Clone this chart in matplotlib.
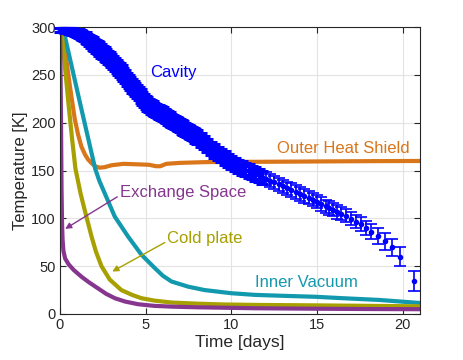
import matplotlib
matplotlib.use('Agg')
import matplotlib.pyplot as plt

plt.rcParams['font.family'] = ['Liberation Sans', 'DejaVu Sans']

# Cavity temperature with error bars (days, K)
cavity_t = [0.0, 0.1, 0.2, 0.3, 0.4, 0.5, 0.6, 0.7, 0.8, 0.9,
            1.0, 1.1, 1.2, 1.3, 1.4, 1.5, 1.6, 1.7, 1.8, 1.9,
            2.0, 2.1, 2.2, 2.3, 2.4, 2.5, 2.6, 2.7, 2.8, 2.9,
            3.0, 3.1, 3.2, 3.3, 3.4, 3.5, 3.6, 3.7, 3.8, 3.9,
            4.0, 4.1, 4.2, 4.3, 4.4, 4.5, 4.6, 4.7, 4.8, 4.9,
            5.0, 5.1, 5.2, 5.3, 5.4, 5.5, 5.6, 5.7, 5.8, 5.9,
            6.0, 6.1, 6.2, 6.3, 6.4, 6.5, 6.6, 6.7, 6.8, 6.9,
            7.0, 7.1, 7.2, 7.3, 7.4, 7.5, 7.6, 7.7, 7.8, 7.9,
            8.0, 8.2, 8.4, 8.6, 8.8, 9.0, 9.2, 9.4, 9.6, 9.8,
            10.0, 10.2, 10.4, 10.6, 10.8, 11.0, 11.2, 11.4, 11.6, 11.8,
            12.0, 12.25, 12.5, 12.75, 13.0, 13.25, 13.5, 13.75, 14.0, 14.25,
            14.5, 14.75, 15.0, 15.25, 15.5, 15.72, 15.93, 16.16, 16.42, 16.67,
            16.96, 17.25, 17.54, 17.87, 18.16, 18.55, 18.94, 19.35, 19.85, 20.63]
cavity_T = [297, 297, 297, 296.8, 296.5, 296.2, 296, 295.5, 295, 294.5,
            294, 293, 292, 291, 290, 289, 287.5, 286, 284.5, 283,
            281.5, 280, 278.5, 277, 275, 273.5, 272, 270, 268.5, 267,
            265, 263, 261, 259, 257, 255, 253, 250.5, 248, 245.5,
            243, 241, 238.5, 236.5, 234.5, 232.5, 230.5, 228, 225.5, 223,
            221, 219.5, 218, 216.5, 215.5, 214, 213, 212, 211, 210,
            209, 207.5, 206.5, 205, 204, 202.5, 201.5, 200, 199, 198,
            197, 195.5, 194.5, 193, 192, 191, 190, 188.5, 187.5, 186,
            185, 182, 179, 176, 173, 170.5, 168, 165.5, 163, 160.5,
            158.5, 156.5, 154.5, 152.5, 151, 149.5, 148, 146.5, 145, 143,
            141.5, 139.5, 137.5, 135.5, 133.5, 131.5, 129.5, 127.5, 125.5, 123.5,
            121.5, 119.5, 117.5, 115, 112.5, 110.8, 109, 106.7, 104.9, 102.8,
            99.7, 96.5, 94.1, 89.9, 86, 81.5, 75.9, 69.6, 60.1, 34.9]
cavity_err = [2, 2, 2, 2.5, 2.5, 3, 3, 3.5, 3.5, 4,
              4, 4.5, 4.5, 5, 5, 5.5, 5.5, 6, 6, 6.5,
              6.5, 7, 7, 7, 7, 7, 7, 7, 7, 7,
              7, 7, 7, 7, 7, 7, 7, 7, 7, 7,
              7, 7, 7, 7, 7, 7, 7, 7, 7, 7,
              7, 7, 7, 7, 7, 7, 7, 7, 7, 7,
              7, 7, 7, 7, 7, 7, 7, 7, 7, 7,
              7, 7, 7, 7, 7, 7, 7, 7, 7, 7,
              7, 7, 7, 7, 7, 7, 7, 7, 7, 7,
              7, 7, 7, 7, 7, 7, 7, 7, 7, 7,
              7, 7, 7, 7, 7, 7, 7, 7, 7, 7,
              7, 7, 7, 7, 7, 7, 7, 7, 7, 7,
              7, 7, 7.5, 7.5, 8, 8, 8.5, 9, 9.5, 10.5]

shield_t = [0, 0.15, 0.3, 0.58, 0.86, 1.05, 1.25, 1.45, 1.64, 1.85, 2.05, 2.3, 2.6, 3.0,
            3.7, 4.5, 5.2, 5.6, 5.85, 6.2, 7.0, 8.5, 10, 12.4, 15, 18, 21]
shield_T = [298, 296, 275, 238, 204, 188, 175, 167, 161.5, 157.5, 154.5, 153, 153.5, 155.5,
            157, 156.5, 156, 154.5, 154.5, 157, 158, 158.8, 159, 159.2, 159.5, 159.8, 160]

vacuum_t = [0, 0.2, 1.15, 2.05, 2.3, 2.6, 3.19, 3.97, 4.75, 5.53, 6.0, 6.5, 7.47,
            8.44, 10, 11.35, 13, 14.9, 16.5, 18.6, 20.7, 21]
vacuum_T = [298, 297, 222, 152, 139, 126.6, 102, 81, 62, 48, 40, 34, 28.6,
            25, 21.7, 20, 19, 18, 16.5, 14.7, 11.9, 11.5]

plate_t = [0, 0.1, 0.3, 0.5, 0.7, 0.9, 1.2, 1.45, 1.84, 2.1, 2.42, 2.9, 3.58, 4.2,
           4.75, 5.5, 6.5, 8, 9.4, 11.35, 15, 18, 21]
plate_T = [298, 294, 256, 219, 184, 152, 126, 108, 81, 65, 50, 36, 25, 20,
           16.5, 14, 12, 10.8, 10, 9.5, 9, 8.5, 8]

exch_t = [0, 0.03, 0.06, 0.09, 0.12, 0.15, 0.2, 0.3, 0.5, 0.8, 1.25, 1.7, 2.2, 2.7,
          3.2, 3.8, 4.56, 5.5, 6.5, 8, 11.4, 15, 18, 21]
exch_T = [298, 260, 200, 130, 95, 78, 66, 58, 52, 46, 39, 33, 27, 21,
          16.5, 13, 10.2, 8.5, 7.7, 7, 6, 5.5, 5.2, 5]

c_cav = '#0000FF'
c_shield = '#D9761A'
c_vac = '#1299AD'
c_plate = '#A7A000'
c_exch = '#86368F'

fig = plt.figure(figsize=(4.64, 3.6), dpi=100)
ax = fig.add_axes([0.1293, 0.1278, 0.7759, 0.797])

lw = 3.0
ax.plot(shield_t, shield_T, color=c_shield, lw=lw)
ax.plot(vacuum_t, vacuum_T, color=c_vac, lw=lw)
ax.plot(plate_t, plate_T, color=c_plate, lw=lw)
ax.plot(exch_t, exch_T, color=c_exch, lw=lw)

# dense part drawn with heavier strokes so overlapping bars merge into a band
n = 100
ax.errorbar(cavity_t[:n], cavity_T[:n], yerr=cavity_err[:n], fmt='.', color=c_cav,
            ms=6, elinewidth=2.2, capsize=4, capthick=2.2, clip_on=False, zorder=5)
ax.errorbar(cavity_t[n:], cavity_T[n:], yerr=cavity_err[n:], fmt='.', color=c_cav,
            ms=6, elinewidth=1.2, capsize=4, capthick=1.2, zorder=5)

ax.set_xlim(0, 21)
ax.set_ylim(0, 300)
ax.set_xticks([0, 5, 10, 15, 20])
ax.set_yticks([0, 50, 100, 150, 200, 250, 300])
ax.grid(True, color='#E3E3E3', lw=0.8)
ax.set_axisbelow(True)
ax.tick_params(direction='in', top=True, right=True, length=4, width=0.8,
               labelsize=10.5, colors='#262626', pad=3)
for s in ax.spines.values():
    s.set_color('#262626')
    s.set_linewidth(0.8)

ax.set_xlabel('Time [days]', fontsize=12.5, color='#262626', labelpad=2)
ax.set_ylabel('Temperature [K]', fontsize=12, color='#262626', labelpad=2)

ax.text(5.24, 253, 'Cavity', color=c_cav, fontsize=12, va='center')
ax.text(12.63, 172.8, 'Outer Heat Shield', color=c_shield, fontsize=12, va='center')
ax.text(11.36, 33, 'Inner Vacuum', color=c_vac, fontsize=12, va='center')
ax.annotate('Exchange Space', xy=(0.3, 89), xytext=(3.5, 127.4), color=c_exch,
            fontsize=12, va='center',
            arrowprops=dict(arrowstyle='-|>', color=c_exch, lw=1, mutation_scale=9,
                            shrinkA=0, shrinkB=0, relpos=(0, 0.3)))
ax.annotate('Cold plate', xy=(3.05, 44.4), xytext=(6.27, 79.4), color=c_plate,
            fontsize=12, va='center',
            arrowprops=dict(arrowstyle='-|>', color=c_plate, lw=1, mutation_scale=9,
                            shrinkA=0, shrinkB=0, relpos=(0, 0.3)))

fig.savefig('out.png', dpi=100)
